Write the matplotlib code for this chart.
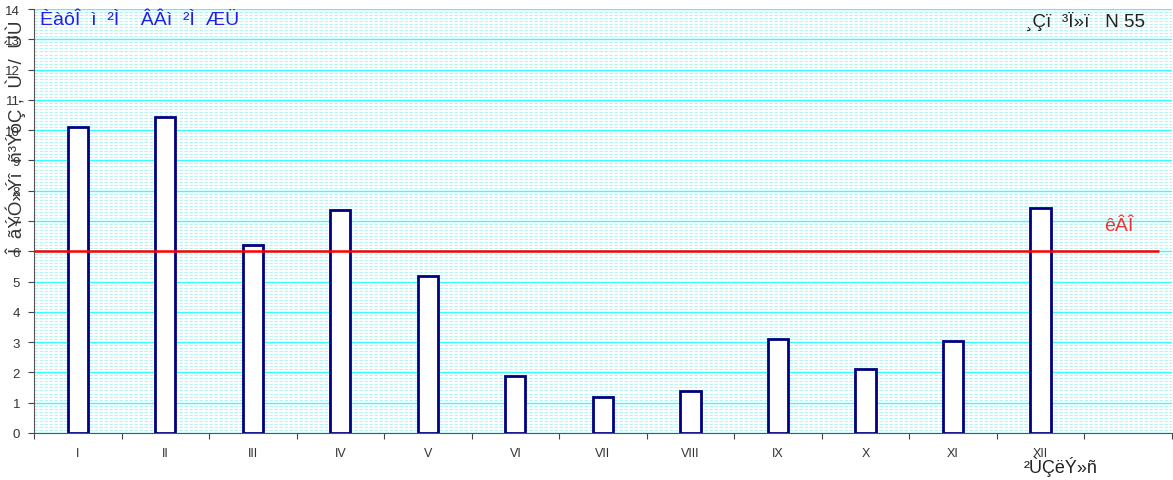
import matplotlib.pyplot as plt
import numpy as np

# month labels (13th slot is empty in the original)
months = ["I", "II", "III", "IV", "V", "VI", "VII", "VIII", "IX", "X", "XI", "XII", ""]
values = [10.1, 10.43, 6.2, 7.36, 5.18, 1.88, 1.19, 1.39, 3.1, 2.11, 3.04, 7.43, 0]
norm_value = 6.0

title_left = "ÈàôÎ  ì  ²Ì    ÂÂì  ²Ì  ÆÜ"
title_right = "¸Çï  ³Ï»ï   N 55"
norm_label = "êÂÎ"
x_label = "²ÙÇëÝ»ñ"
y_label = "Î  ãÝÓ»Ýî  ñ³ÝóÇ ,  Ù  /  ÙÙ"

plt.rcParams['font.family'] = ['Liberation Sans', 'DejaVu Sans']

fig = plt.figure(figsize=(11.73, 4.81), dpi=100)
ax = fig.add_axes([0.029, 0.098, 0.97, 0.881])

x = np.arange(len(months))
ax.bar(x[:12], values[:12], width=0.23, color="white", edgecolor="#000080", linewidth=2, zorder=3)
ax.hlines(norm_value, -0.5, 12.35, color="#ff0000", linewidth=1.8, zorder=4)

ax.set_xlim(-0.5, 12.5)
ax.set_ylim(0, 14)

# grid: major every 1, dense dashed minor lines
ax.set_yticks(np.arange(0, 15, 1))
ax.set_yticks(np.arange(0, 14, 0.1), minor=True)
ax.grid(axis="y", which="major", color="#33ffff", linewidth=1, zorder=1)
ax.grid(axis="y", which="minor", color="#b0f4f4", linewidth=0.8, linestyle=(0, (3, 1.5)), zorder=0)

# ticks at slot boundaries, labels in slot centres
ax.set_xticks(np.arange(-0.5, 13, 1))
ax.set_xticklabels([])
ax.set_xticks(x, minor=True)
ax.set_xticklabels(months, minor=True)
ax.tick_params(axis="x", which="major", length=4, color="#444444", direction="out")
ax.tick_params(axis="x", which="minor", length=0, pad=10, labelsize=9, labelcolor="#333333")
ax.tick_params(axis="y", which="major", length=4, color="#444444", labelsize=9.5, labelcolor="#333333", pad=6)
ax.tick_params(axis="y", which="minor", length=0)

for s in ["top", "right"]:
    ax.spines[s].set_visible(False)
for s in ["left", "bottom"]:
    ax.spines[s].set_color("#555555")

ax.text(0.005, 0.995, title_left, transform=ax.transAxes, ha="left", va="top",
        fontsize=14, color="#2020ee")
ax.text(0.976, 0.995, title_right, transform=ax.transAxes, ha="right", va="top",
        fontsize=13.5, color="#222222")
ax.text(11.89, 6.85, norm_label, ha="center", va="center", fontsize=14, color="#ee3333")

fig.text(0.904, 0.03, x_label, ha="center", va="center", fontsize=13, color="#222222")
fig.text(0.014, 0.715, y_label, ha="center", va="center", rotation=90, fontsize=13.5, color="#333333")

plt.savefig("out.png", dpi=100)
